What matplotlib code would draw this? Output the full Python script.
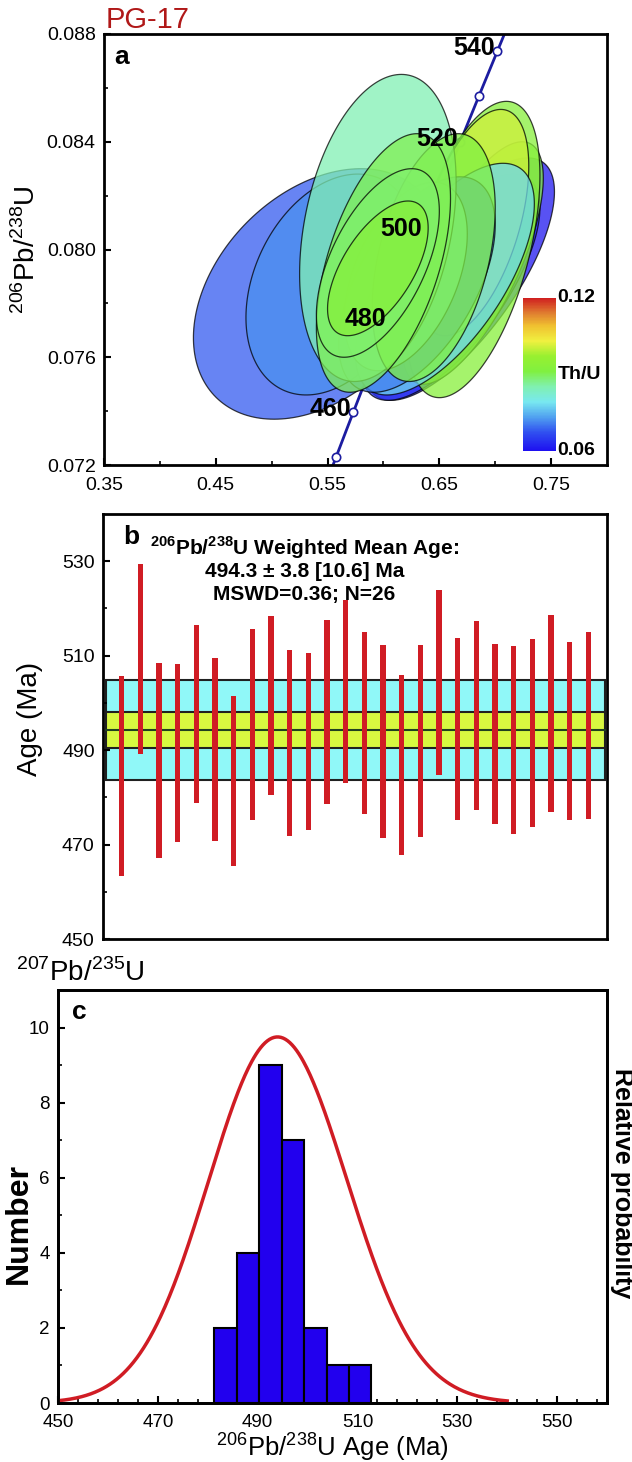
import numpy as np
import matplotlib.pyplot as plt
from matplotlib.colors import LinearSegmentedColormap, Normalize
from matplotlib.colorbar import ColorbarBase
from matplotlib.patches import Polygon

plt.rcParams['font.family'] = ['Liberation Sans', 'DejaVu Sans']
plt.rcParams['mathtext.fontset'] = 'custom'
plt.rcParams['mathtext.rm'] = 'Liberation Sans'
plt.rcParams['mathtext.bf'] = 'Liberation Sans:bold'
plt.rcParams['axes.linewidth'] = 2

# ---- panel a: error ellipses (207Pb/235U, 206Pb/238U), back to front
ell_x = [0.541, 0.668, 0.660, 0.554, 0.680, 0.680, 0.680, 0.655, 0.630, 0.620, 0.595, 0.645, 0.600, 0.595, 0.595]
ell_y = [0.07835, 0.0789, 0.0786, 0.0787, 0.0795, 0.0800, 0.0810, 0.0789, 0.0787, 0.0790, 0.0808, 0.0797, 0.0795, 0.0795, 0.0793]
ell_ex = [0.111, 0.085, 0.080, 0.077, 0.063, 0.060, 0.050, 0.080, 0.070, 0.055, 0.070, 0.055, 0.060, 0.055, 0.045]
ell_ey = [0.00465, 0.0045, 0.0042, 0.0041, 0.0045, 0.0055, 0.0042, 0.0043, 0.0040, 0.0035, 0.0057, 0.0046, 0.0048, 0.0035, 0.0025]
ell_rho = [0.35, 0.72, 0.70, 0.30, 0.70, 0.50, 0.50, 0.65, 0.55, 0.45, 0.30, 0.40, 0.50, 0.55, 0.60]
ell_thu = [0.068, 0.061, 0.064, 0.072, 0.092, 0.093, 0.101, 0.078, 0.071, 0.082, 0.085, 0.091, 0.090, 0.089, 0.093]

marker_ages = [450, 460, 470, 480, 490, 500, 510, 520, 530, 540]
label_ages = [460, 480, 500, 520, 540]

# ---- panel b / c: 206Pb/238U ages and half error bars (Ma)
ages = [484.6, 509.3, 487.8, 489.4, 497.7, 490.1, 483.5, 495.5, 499.5, 491.5, 491.8, 498.0, 502.4,
        495.7, 491.8, 486.9, 492.0, 504.4, 494.4, 497.3, 493.4, 492.2, 493.7, 497.8, 494.0, 495.3]
errs = [21.2, 20.1, 20.7, 18.8, 18.8, 19.4, 18.0, 20.2, 19.0, 19.7, 18.8, 19.5, 19.3,
        19.3, 20.5, 19.1, 20.3, 19.6, 19.3, 20.0, 19.1, 19.9, 19.9, 20.8, 18.9, 19.8]
wm_age = 494.3
wm_err = 3.8
wm_err_tot = 10.6
bin_edges = [481.3, 485.8, 490.3, 494.8, 499.3, 503.8, 508.3, 512.8]

cmap = LinearSegmentedColormap.from_list('thu', [
    (0.0, '#1e10f0'), (0.12, '#3050f0'), (0.22, '#50a0f0'), (0.32, '#78e8f0'),
    (0.42, '#80f0b0'), (0.52, '#80f040'), (0.62, '#98f030'), (0.72, '#f0f040'),
    (0.82, '#f0c030'), (0.90, '#e08030'), (1.0, '#d02020')])
norm = Normalize(0.06, 0.12)

fig = plt.figure(figsize=(6.32, 14.62), dpi=100)
ax_a = fig.add_axes([104/632, 1-465/1462, 503/632, 431/1462])
ax_b = fig.add_axes([103/632, 1-939/1462, 504/632, 425/1462])
ax_c = fig.add_axes([58/632, 1-1403/1462, 549/632, 413/1462])

# concordia
l238, l235 = 1.55125e-10, 9.8485e-10
t = np.linspace(430, 570, 300) * 1e6
ax_a.plot(np.exp(l235*t)-1, np.exp(l238*t)-1, color='#1c1ca0', lw=2, zorder=1)
ma = np.array(marker_ages) * 1e6
ax_a.plot(np.exp(l235*ma)-1, np.exp(l238*ma)-1, 'o', ms=6, mfc='white', mec='#1c1ca0', mew=1.2, zorder=2)

tt = np.linspace(0, 2*np.pi, 200)
for x0, y0, ex, ey, r, th in zip(ell_x, ell_y, ell_ex, ell_ey, ell_rho, ell_thu):
    px = x0 + ex*np.cos(tt)
    py = y0 + ey*(r*np.cos(tt) + np.sqrt(1-r**2)*np.sin(tt))
    ax_a.add_patch(Polygon(np.column_stack([px, py]), closed=True, fc=cmap(norm(th)),
                           ec='black', lw=0.9, alpha=0.75, zorder=3))

for a in label_ages:
    tm = a * 1e6
    ax_a.text(np.exp(l235*tm)-1 - 0.002, np.exp(l238*tm)-1 + 0.0001, str(a), ha='right', va='center',
              fontsize=18, fontweight='bold', zorder=5)

ax_a.set_xlim(0.35, 0.80)
ax_a.set_ylim(0.072, 0.088)
ax_a.set_xticks(np.arange(0.35, 0.76, 0.1))
ax_a.set_xticks(np.arange(0.40, 0.80, 0.1), minor=True)
ax_a.set_yticks(np.arange(0.072, 0.0881, 0.004))
ax_a.set_yticks(np.arange(0.074, 0.088, 0.004), minor=True)
ax_a.xaxis.set_major_formatter(plt.FuncFormatter(lambda v, p: '%.2f' % v))
ax_a.yaxis.set_major_formatter(plt.FuncFormatter(lambda v, p: '%.3f' % v))
ax_a.set_ylabel('$^{206}$Pb/$^{238}$U', fontsize=20, labelpad=4)
ax_a.text(0.02, 0.975, 'a', transform=ax_a.transAxes, fontsize=19, fontweight='bold', va='top')
fig.text(106/632, 1-20/1462, 'PG-17', color='#b01818', fontsize=21, va='center')

cax = fig.add_axes([523/632, 1-451/1462, 33/632, 153/1462])
cb = ColorbarBase(cax, cmap=cmap, norm=norm)
cb.outline.set_visible(False)
cax.set_yticks([])
cax.text(1.04, 1.0, '0.12', transform=cax.transAxes, fontsize=14, fontweight='bold', va='center')
cax.text(1.04, 0.0, '0.06', transform=cax.transAxes, fontsize=14, fontweight='bold', va='center')
cax.text(1.04, 0.5, 'Th/U', transform=cax.transAxes, fontsize=14, fontweight='bold', va='center')

# ---- panel b
xb = np.arange(1, len(ages)+1)
ax_b.axhspan(wm_age-wm_err_tot, wm_age+wm_err_tot, xmin=0.006, xmax=0.996, fc='#90f8f8', ec='#202020', lw=1.5, zorder=1)
ax_b.axhspan(wm_age-wm_err, wm_age+wm_err, xmin=0.006, xmax=0.996, fc='#d8f840', ec='#202020', lw=1.5, zorder=2)
ax_b.plot([0.16, 26.9], [wm_age, wm_age], color='#204020', lw=1.5, zorder=2)
ax_b.bar(xb, 2*np.array(errs), bottom=np.array(ages)-np.array(errs), width=0.3, color='#d01c24', zorder=3)
ax_b.set_xlim(0, 27)
ax_b.set_ylim(450, 540)
ax_b.set_xticks([])
ax_b.set_yticks(np.arange(450, 531, 20))
ax_b.set_yticks(np.arange(460, 540, 20), minor=True)
ax_b.text(0.04, 0.975, 'b', transform=ax_b.transAxes, fontsize=19, fontweight='bold', va='top')
ax_b.text(0.40, 0.92, r'$^{\mathbf{206}}$Pb/$^{\mathbf{238}}$U Weighted Mean Age:', transform=ax_b.transAxes,
          ha='center', va='center', fontsize=15, fontweight='bold')
ax_b.text(0.40, 0.865, '%.1f ± %.1f [%.1f] Ma' % (wm_age, wm_err, wm_err_tot), transform=ax_b.transAxes,
          ha='center', va='center', fontsize=15, fontweight='bold')
ax_b.text(0.40, 0.81, 'MSWD=0.36; N=%d' % len(ages), transform=ax_b.transAxes,
          ha='center', va='center', fontsize=15, fontweight='bold')
fig.text(30/632, 1-719/1462, 'Age (Ma)', rotation=90, fontsize=20, ha='center', va='center')

# ---- panel c
ax_c.hist(ages, bins=bin_edges, color='#2200ee', ec='black', lw=1.5, zorder=2)
ax_c.set_xlim(450, 560)
ax_c.set_ylim(0, 11)
ax_c.set_xticks(np.arange(450, 551, 20))
ax_c.set_xticks(np.arange(450, 560, 4), minor=True)
ax_c.set_yticks(np.arange(0, 11, 2))
ax_c.set_yticks(np.arange(1, 11, 2), minor=True)
ax_c.text(0.025, 0.975, 'c', transform=ax_c.transAxes, fontsize=19, fontweight='bold', va='top')

tw = ax_c.twinx()
xs = np.linspace(450, 540, 400)
pdp = np.zeros_like(xs)
for a, e in zip(ages, errs):
    s = 0.65 * e
    pdp += np.exp(-0.5*((xs-a)/s)**2) / s
tw.plot(xs, pdp / pdp.max(), color='#d01c24', lw=2.5)
tw.set_ylim(0, 11/9.75)
tw.set_yticks([])

fig.text(19/632, 1-1224/1462, 'Number', rotation=90, fontsize=23, fontweight='bold', ha='center', va='center')
fig.text(622/632, 1-1183/1462, 'Relative probability', rotation=270, fontsize=18, fontweight='bold',
         ha='center', va='center')
fig.text(16/632, 1-973/1462, '$^{207}$Pb/$^{235}$U', fontsize=20, va='center')
fig.text(332/632, 1-1447/1462, '$^{206}$Pb/$^{238}$U Age (Ma)', fontsize=18.5, ha='center', va='center')

for ax in (ax_a, ax_b, ax_c):
    ax.tick_params(which='both', direction='in', labelsize=14, top=False, right=False)
    ax.tick_params(which='major', length=5, width=1.5, pad=6)
    ax.tick_params(which='minor', length=3, width=1.2)
ax_a.tick_params(axis='x', pad=9)
ax_c.tick_params(axis='x', pad=8, labelsize=13.5)
ax_c.tick_params(axis='y', labelsize=13.5)

fig.savefig('out.png', dpi=100)
